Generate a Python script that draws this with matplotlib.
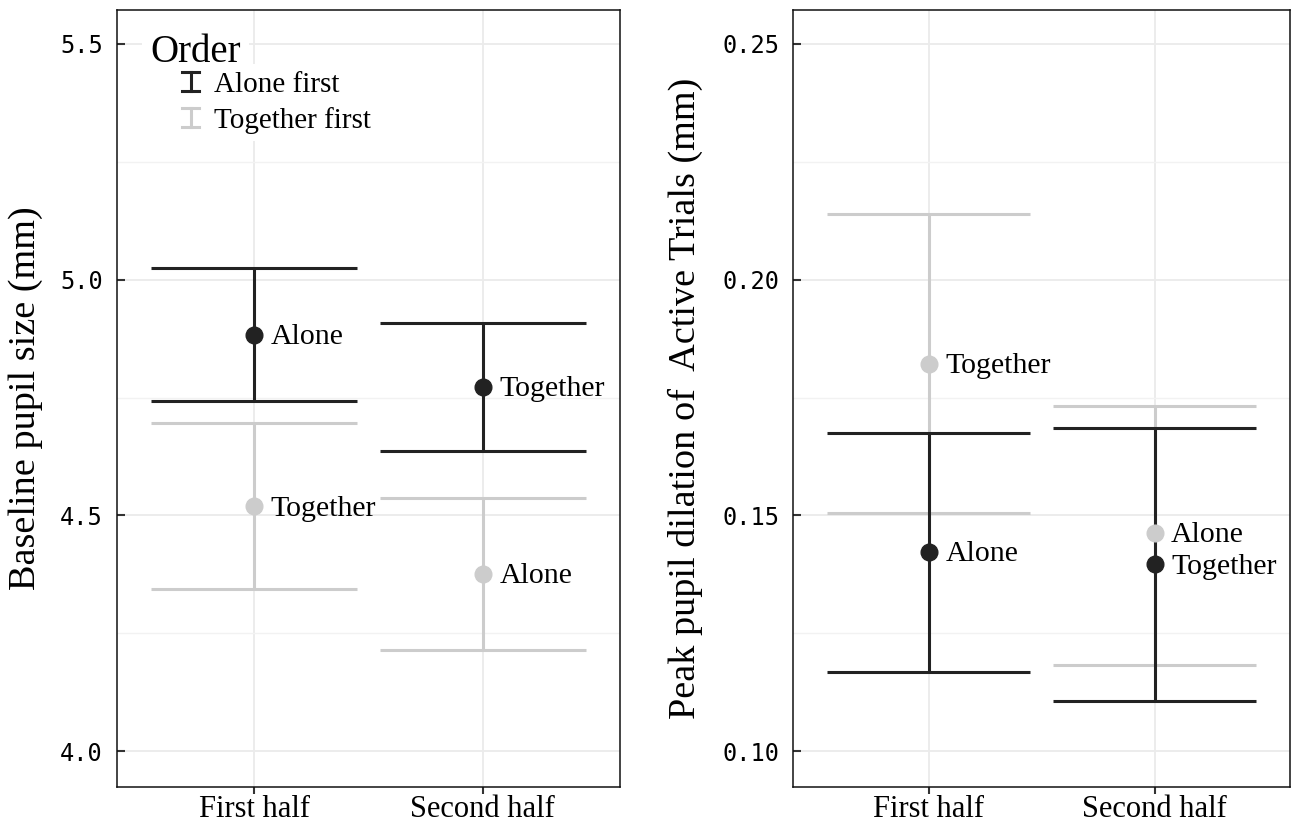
import numpy as np
import matplotlib
matplotlib.use('Agg')
import matplotlib.pyplot as plt
from matplotlib.legend_handler import HandlerBase
from matplotlib.lines import Line2D
from matplotlib.ticker import MultipleLocator, FormatStrFormatter

plt.rcParams['font.family'] = 'Liberation Serif'

# categorias e grupos
halves = ['First half', 'Second half']
order_groups = ['Alone first', 'Together first']
group_colors = ['#222222', '#cccccc']
cond_labels = [['Alone', 'Together'], ['Together', 'Alone']]

# tamanho basal da pupila (mm): media e intervalo
baseline_mean = [[4.883, 4.773], [4.519, 4.375]]
baseline_lo = [[4.742, 4.636], [4.343, 4.214]]
baseline_hi = [[5.025, 4.909], [4.695, 4.538]]

# pico de dilatacao nos ensaios ativos (mm)
peak_mean = [[0.1422, 0.1396], [0.1822, 0.1462]]
peak_lo = [[0.1167, 0.1106], [0.1506, 0.1182]]
peak_hi = [[0.1674, 0.1686], [0.2140, 0.1733]]

LW = 2.2
CAP = 0.45


class HandlerBarraI(HandlerBase):
    # desenha a chave da legenda como uma barra de erro em "I"
    def create_artists(self, legend, orig_handle, xdescent, ydescent,
                       width, height, fontsize, trans):
        cx = width * 0.85 - xdescent
        meio = height / 2 - ydescent
        y0 = meio - 0.47 * height
        y1 = meio + 0.47 * height
        w = 0.4 * height
        cor = orig_handle.get_color()
        linhas = [
            Line2D([cx, cx], [y0, y1], color=cor, lw=LW),
            Line2D([cx - w, cx + w], [y0, y0], color=cor, lw=LW),
            Line2D([cx - w, cx + w], [y1, y1], color=cor, lw=LW),
        ]
        for l in linhas:
            l.set_transform(trans)
        return linhas


def painel(ax, media, lo, hi, ylim, major, minor, fmt, ylabel):
    x = np.arange(len(halves))
    handles = []
    # barras de erro primeiro (cinza por baixo), depois os pontos
    for g in [1, 0]:
        ax.vlines(x, lo[g], hi[g], color=group_colors[g], lw=LW, zorder=3)
        ax.hlines(lo[g], x - CAP, x + CAP, color=group_colors[g], lw=LW, zorder=3)
        ax.hlines(hi[g], x - CAP, x + CAP, color=group_colors[g], lw=LW, zorder=3)
    for g in [1, 0]:
        ax.plot(x, media[g], 'o', color=group_colors[g], ms=12, zorder=4)
        for i in range(len(halves)):
            ax.annotate(cond_labels[g][i], (x[i], media[g][i]),
                        xytext=(12, -1.5), textcoords='offset points',
                        va='center', ha='left', fontsize=21.5, zorder=5)
    for g in [0, 1]:
        handles.append(Line2D([], [], color=group_colors[g], label=order_groups[g]))

    ax.set_xlim(-0.6, 1.6)
    ax.set_ylim(*ylim)
    ax.set_xticks(x)
    ax.set_xticklabels(halves, fontsize=22)
    ax.yaxis.set_major_locator(MultipleLocator(major))
    ax.yaxis.set_minor_locator(MultipleLocator(minor))
    ax.yaxis.set_major_formatter(FormatStrFormatter(fmt))
    for t in ax.get_yticklabels():
        t.set_fontfamily('DejaVu Sans Mono')
        t.set_fontsize(17)
    ax.tick_params(axis='y', which='major', direction='in', length=6, width=1.5,
                   color='#333333', pad=10)
    ax.tick_params(axis='y', which='minor', length=0)
    ax.tick_params(axis='x', direction='out', length=5, width=1.5,
                   color='#333333', pad=1)
    ax.grid(True, which='major', color='#ebebeb', lw=1.3, zorder=0)
    ax.grid(True, which='minor', axis='y', color='#f2f2f2', lw=1.0, zorder=0)
    ax.set_axisbelow(True)
    for s in ax.spines.values():
        s.set_color('#111111')
        s.set_linewidth(1.1)
    ax.set_ylabel(ylabel, fontsize=27.5)
    return handles


fig = plt.figure(figsize=(12.95, 8.22), dpi=100)
ax1 = fig.add_axes([0.0903, 0.0426, 0.3884, 0.9452])
ax2 = fig.add_axes([0.6124, 0.0426, 0.3838, 0.9452])

h = painel(ax1, baseline_mean, baseline_lo, baseline_hi, (3.924, 5.572),
           0.5, 0.25, '%.1f', 'Baseline pupil size (mm)')
painel(ax2, peak_mean, peak_lo, peak_hi, (0.0924, 0.2572),
       0.05, 0.025, '%.2f', 'Peak pupil dilation of  Active Trials (mm)')

ax1.yaxis.set_label_coords(-0.147, 0.5)
ax2.yaxis.set_label_coords(-0.182, 0.5)

# titulo da legenda como texto separado, com fundo branco
ax1.text(0.0656, 0.933, 'Order', transform=ax1.transAxes, fontsize=28,
         va='baseline', ha='left', zorder=6,
         bbox=dict(facecolor='white', edgecolor='none', pad=6))

leg = ax1.legend(handles=h, loc='upper left',
                 bbox_to_anchor=(0.024, 0.949), fontsize=21,
                 frameon=True, facecolor='white', edgecolor='none', framealpha=1,
                 handler_map={Line2D: HandlerBarraI()}, handlelength=1.6,
                 handletextpad=0.55, labelspacing=0.3, borderpad=0.25)
leg.get_frame().set_boxstyle('square', pad=0)
leg.set_zorder(6)

plt.savefig('out.png', dpi=100)
